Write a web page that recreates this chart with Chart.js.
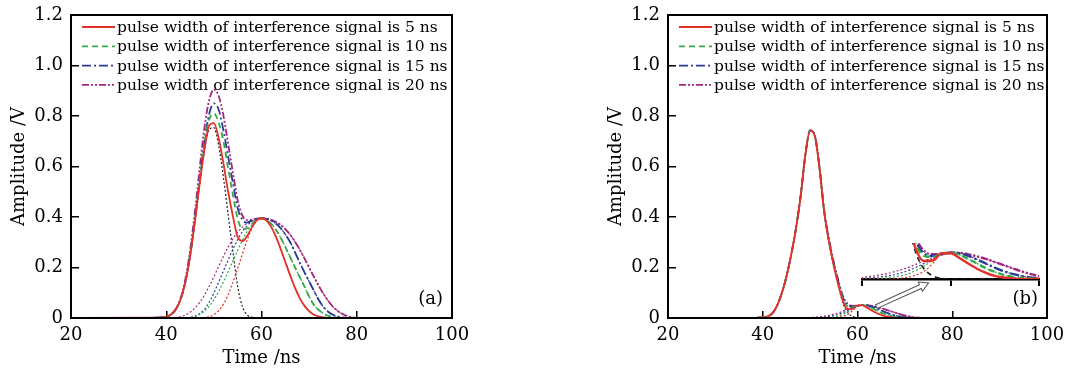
<!DOCTYPE html>
<html>
<head>
<meta charset="utf-8">
<script src="https://cdn.jsdelivr.net/npm/chart.js@4.4.1/dist/chart.umd.min.js"></script>
<style>
  body { margin: 0; background: #fff; }
  #wrap { position: relative; width: 1067px; height: 374px; }
  canvas { position: absolute; top: 0; }
</style>
</head>
<body>
<div id="wrap">
  <canvas id="chartA" width="533" height="374" style="left:0"></canvas>
  <canvas id="chartB" width="534" height="374" style="left:533px"></canvas>
  <canvas id="chartInset" width="200" height="60" style="left:850px;top:235px"></canvas>
</div>
<script>
// sample times (ns); every series below starts at times[0]
var times = [38, 39, 40, 41, 42, 43, 44, 45, 46, 47, 48, 49, 50, 51, 52, 53, 54, 55, 56, 57, 58, 59, 60,
             61, 62, 63, 64, 65, 66, 67, 68, 69, 70, 71, 72, 73, 74, 75, 76, 77, 78, 79, 80, 81, 82, 83, 84];
var timeRange = [20, 100];

var legendLabels = [
    'pulse width of interference signal is 5 ns',
    'pulse width of interference signal is 10 ns',
    'pulse width of interference signal is 15 ns',
    'pulse width of interference signal is 20 ns'
];

// (a) received signal, echo pulse alone and interference pulses alone
var signalA = [0.001, 0.002, 0.005, 0.014, 0.034, 0.073, 0.141, 0.244, 0.379, 0.529, 0.662, 0.745, 0.754, 0.684, 0.558,
               0.408, 0.262, 0.125, 0.045, 0.012, 0.003, 0];
var red5A = [0.001, 0.002, 0.005, 0.014, 0.034, 0.073, 0.141, 0.244, 0.379, 0.529, 0.664, 0.762, 0.772, 0.713, 0.613,
             0.500, 0.403, 0.321, 0.305, 0.325, 0.360, 0.387, 0.395, 0.387, 0.362, 0.323, 0.275, 0.222, 0.170, 0.121,
             0.080, 0.049, 0.027, 0.013, 0.006, 0.002, 0];
var green10A = [0.001, 0.002, 0.005, 0.014, 0.034, 0.073, 0.141, 0.246, 0.385, 0.543, 0.689, 0.785, 0.810, 0.775, 0.701,
                0.592, 0.488, 0.393, 0.353, 0.355, 0.373, 0.389, 0.395, 0.389, 0.374, 0.350, 0.319, 0.282, 0.242, 0.202,
                0.163, 0.125, 0.085, 0.052, 0.032, 0.018, 0.009, 0.004, 0.001, 0];
var blue15A = [0.001, 0.002, 0.005, 0.014, 0.034, 0.073, 0.141, 0.246, 0.386, 0.546, 0.696, 0.807, 0.850, 0.826, 0.744,
               0.638, 0.535, 0.435, 0.388, 0.378, 0.386, 0.393, 0.395, 0.393, 0.386, 0.374, 0.356, 0.331, 0.301, 0.262,
               0.220, 0.182, 0.145, 0.108, 0.072, 0.044, 0.025, 0.013, 0.006, 0.002, 0];
var purple20A = [0.001, 0.002, 0.005, 0.014, 0.036, 0.078, 0.153, 0.267, 0.418, 0.590, 0.752, 0.862, 0.905, 0.880, 0.802,
                 0.689, 0.575, 0.465, 0.405, 0.388, 0.389, 0.394, 0.395, 0.394, 0.389, 0.381, 0.369, 0.352, 0.330, 0.303,
                 0.272, 0.237, 0.200, 0.163, 0.128, 0.096, 0.068, 0.045, 0.028, 0.016, 0.008, 0.003, 0.001, 0];
var jam5A = [0, 0, 0, 0, 0, 0, 0, 0, 0, 0, 0.002, 0.005, 0.013, 0.029, 0.055, 0.092, 0.141, 0.196, 0.254, 0.309,
             0.355, 0.385, 0.395, 0.387, 0.362, 0.323, 0.275, 0.222, 0.170, 0.121, 0.080, 0.049, 0.027, 0.013, 0.006,
             0.002, 0];
var jam10A = [0, 0, 0, 0, 0, 0, 0, 0.002, 0.006, 0.014, 0.027, 0.046, 0.072, 0.105, 0.143, 0.184, 0.226, 0.268, 0.308,
              0.343, 0.370, 0.388, 0.395, 0.389, 0.374, 0.350, 0.319, 0.282, 0.242, 0.202, 0.163, 0.125, 0.085, 0.052,
              0.032, 0.018, 0.009, 0.004, 0.001, 0];
var jam15A = [0, 0, 0, 0, 0, 0, 0, 0.002, 0.007, 0.017, 0.034, 0.062, 0.099, 0.142, 0.186, 0.230, 0.273, 0.310, 0.343,
              0.366, 0.383, 0.392, 0.395, 0.393, 0.386, 0.374, 0.356, 0.331, 0.301, 0.262, 0.220, 0.182, 0.145, 0.108,
              0.072, 0.044, 0.025, 0.013, 0.006, 0.002, 0];
var jam20A = [0, 0, 0, 0, 0.002, 0.005, 0.012, 0.023, 0.039, 0.061, 0.090, 0.125, 0.163, 0.204, 0.244, 0.281, 0.313,
              0.340, 0.360, 0.376, 0.386, 0.393, 0.395, 0.394, 0.389, 0.381, 0.369, 0.352, 0.330, 0.303, 0.272, 0.237,
              0.200, 0.163, 0.128, 0.096, 0.068, 0.045, 0.028, 0.016, 0.008, 0.003, 0.001, 0];

// (b) same curves after processing
var signalB = [0, 0.001, 0.002, 0.006, 0.018, 0.048, 0.097, 0.164, 0.250, 0.353, 0.483, 0.647, 0.742, 0.720, 0.590,
               0.415, 0.300, 0.205, 0.125, 0.055, 0.020, 0.006, 0.001, 0];
var red5B = [0, 0.001, 0.002, 0.006, 0.018, 0.048, 0.097, 0.164, 0.250, 0.353, 0.483, 0.647, 0.742, 0.720, 0.590,
             0.415, 0.300, 0.206, 0.128, 0.062, 0.035, 0.036, 0.050, 0.050, 0.041, 0.030, 0.020, 0.012, 0.006, 0.003,
             0.001, 0];
var green10B = [0, 0.001, 0.002, 0.006, 0.018, 0.048, 0.097, 0.164, 0.250, 0.353, 0.483, 0.647, 0.742, 0.720, 0.590,
                0.416, 0.302, 0.210, 0.134, 0.071, 0.045, 0.043, 0.049, 0.051, 0.047, 0.039, 0.030, 0.021, 0.014, 0.008,
                0.004, 0.002, 0.001, 0];
var blue15B = [0, 0.001, 0.002, 0.006, 0.018, 0.048, 0.097, 0.164, 0.250, 0.353, 0.483, 0.647, 0.742, 0.721, 0.592,
               0.419, 0.306, 0.215, 0.140, 0.077, 0.050, 0.045, 0.048, 0.051, 0.050, 0.045, 0.038, 0.030, 0.022, 0.015,
               0.010, 0.006, 0.003, 0.002, 0.001, 0];
var purple20B = [0, 0.001, 0.002, 0.006, 0.018, 0.048, 0.097, 0.164, 0.250, 0.353, 0.483, 0.648, 0.744, 0.723, 0.595,
                 0.423, 0.311, 0.221, 0.146, 0.083, 0.055, 0.048, 0.049, 0.051, 0.051, 0.048, 0.044, 0.039, 0.033, 0.027,
                 0.021, 0.015, 0.010, 0.006, 0.003, 0.001, 0];
var jam5B = [0, 0, 0, 0, 0, 0, 0, 0, 0, 0, 0, 0, 0, 0, 0, 0, 0, 0.001, 0.003, 0.007, 0.015, 0.030, 0.049, 0.050,
             0.041, 0.030, 0.020, 0.012, 0.006, 0.003, 0.001, 0];
var jam10B = [0, 0, 0, 0, 0, 0, 0, 0, 0, 0, 0, 0, 0, 0, 0, 0.001, 0.002, 0.005, 0.009, 0.016, 0.025, 0.037, 0.048,
              0.051, 0.047, 0.039, 0.030, 0.021, 0.014, 0.008, 0.004, 0.002, 0.001, 0];
var jam15B = [0, 0, 0, 0, 0, 0, 0, 0, 0, 0, 0, 0, 0, 0.001, 0.002, 0.004, 0.006, 0.010, 0.015, 0.022, 0.030, 0.039,
              0.047, 0.051, 0.050, 0.045, 0.038, 0.030, 0.022, 0.015, 0.010, 0.006, 0.003, 0.002, 0.001, 0];
var jam20B = [0, 0, 0, 0, 0, 0, 0, 0, 0, 0, 0, 0.001, 0.002, 0.003, 0.005, 0.008, 0.011, 0.016, 0.021, 0.028, 0.035,
              0.042, 0.048, 0.051, 0.051, 0.048, 0.044, 0.039, 0.033, 0.027, 0.021, 0.015, 0.010, 0.006, 0.003, 0.001, 0];

// zoom window drawn inside (b), and the arrow pointing at it (time, amplitude)
var insetTimes = [51, 71];
var insetTicks = [51, 61, 71];
var insetAmplitude = [0, 0.07];
var arrowTail = [64, 0.045];
var arrowHead = [75, 0.139];

var RED = '#e5312b', GREEN = '#35a94a', BLUE = '#2c3b98', PURPLE = '#a2287f', BLACK = '#222';
var styles = [
    { color: RED, dash: [] },
    { color: GREEN, dash: [6, 4] },
    { color: BLUE, dash: [9, 3, 2, 3] },
    { color: PURPLE, dash: [7, 2, 2, 2, 2, 2] }
];

Chart.defaults.font.family = '"DejaVu Serif", serif';
Chart.defaults.color = '#000';

function toPoints(values) {
    var pts = [{ x: timeRange[0], y: 0 }];
    values.forEach(function(v, i) { pts.push({ x: times[i], y: v }); });
    pts.push({ x: timeRange[1], y: 0 });
    return pts;
}

function buildDatasets(mains, parts, signal, mainWidth) {
    var sets = [];
    mains.forEach(function(values, i) {
        sets.push({
            label: legendLabels[i], inLegend: true, order: 0,
            data: toPoints(values), borderColor: styles[i].color, borderDash: styles[i].dash,
            borderWidth: mainWidth, pointRadius: 0, fill: false, cubicInterpolationMode: 'monotone'
        });
    });
    parts.forEach(function(values, i) {
        sets.push({
            label: 'jam' + i, order: 1,
            data: toPoints(values), borderColor: styles[i].color, borderDash: [2, 2],
            borderWidth: 1.2, pointRadius: 0, fill: false, cubicInterpolationMode: 'monotone'
        });
    });
    sets.push({
        label: 'echo', order: 1,
        data: toPoints(signal), borderColor: BLACK, borderDash: [2, 2],
        borderWidth: 1.2, pointRadius: 0, fill: false, cubicInterpolationMode: 'monotone'
    });
    return sets;
}

var framePlugin = {
    id: 'frame',
    afterDraw: function(chart) {
        var a = chart.chartArea, ctx = chart.ctx;
        ctx.save();
        ctx.strokeStyle = '#000';
        ctx.lineWidth = 2;
        ctx.strokeRect(a.left, a.top, a.right - a.left, a.bottom - a.top);
        ctx.restore();
    }
};

var legendPlugin = {
    id: 'insideLegend',
    afterDatasetsDraw: function(chart) {
        var a = chart.chartArea, ctx = chart.ctx, row = 0;
        chart.data.datasets.forEach(function(ds) {
            if (!ds.inLegend) return;
            var y = a.top + 12 + row * 19.3;
            ctx.save();
            ctx.strokeStyle = ds.borderColor;
            ctx.lineWidth = ds.borderWidth;
            ctx.setLineDash(ds.borderDash);
            ctx.beginPath();
            ctx.moveTo(a.left + 11, y);
            ctx.lineTo(a.left + 44, y);
            ctx.stroke();
            ctx.fillStyle = '#000';
            ctx.font = '15.5px "DejaVu Serif"';
            ctx.textBaseline = 'middle';
            ctx.fillText(ds.label, a.left + 46, y + 1);
            ctx.restore();
            row++;
        });
    }
};

var tagPlugin = {
    id: 'panelTag',
    afterDraw: function(chart, args, opts) {
        var a = chart.chartArea, ctx = chart.ctx;
        ctx.save();
        ctx.fillStyle = '#000';
        ctx.font = '18px "DejaVu Serif"';
        ctx.textAlign = 'right';
        ctx.textBaseline = 'middle';
        ctx.fillText(opts.text, a.right - 9, a.bottom - 19);
        ctx.restore();
    }
};

// hollow arrow from the small bump in (b) up to the zoom window
var arrowPlugin = {
    id: 'zoomArrow',
    afterDatasetsDraw: function(chart) {
        var xs = chart.scales.x, ys = chart.scales.y, ctx = chart.ctx;
        var x1 = xs.getPixelForValue(arrowTail[0]), y1 = ys.getPixelForValue(arrowTail[1]);
        var x2 = xs.getPixelForValue(arrowHead[0]), y2 = ys.getPixelForValue(arrowHead[1]);
        var ang = Math.atan2(y2 - y1, x2 - x1), len = Math.hypot(x2 - x1, y2 - y1);
        var head = 9, shaft = 2, wing = 5;
        ctx.save();
        ctx.translate(x1, y1);
        ctx.rotate(ang);
        ctx.beginPath();
        ctx.moveTo(0, -shaft);
        ctx.lineTo(len - head, -shaft);
        ctx.lineTo(len - head, -wing);
        ctx.lineTo(len, 0);
        ctx.lineTo(len - head, wing);
        ctx.lineTo(len - head, shaft);
        ctx.lineTo(0, shaft);
        ctx.closePath();
        ctx.fillStyle = '#fff';
        ctx.fill();
        ctx.strokeStyle = '#555';
        ctx.lineWidth = 1;
        ctx.stroke();
        ctx.restore();
    }
};

function panelOptions(padLeft, padRight, tag) {
    return {
        responsive: false,
        animation: false,
        events: [],
        layout: { padding: { left: padLeft, right: padRight, top: 15, bottom: 0 } },
        plugins: { legend: { display: false }, tooltip: { enabled: false }, panelTag: { text: tag } },
        scales: {
            x: {
                type: 'linear', min: timeRange[0], max: timeRange[1],
                ticks: { stepSize: 20, padding: 14, font: { size: 18 } },
                grid: { drawOnChartArea: false, tickLength: -7, color: '#000', lineWidth: 1.5 },
                border: { color: '#000', width: 2 },
                title: { display: true, text: 'Time /ns', font: { size: 18 }, padding: { top: 0, bottom: 5 } },
                afterFit: function(s) { s.height = 56; s.paddingLeft = 0; s.paddingRight = 0; }
            },
            y: {
                min: 0, max: 1.2,
                ticks: {
                    stepSize: 0.2, padding: 16, font: { size: 18 },
                    callback: function(v) { return v === 0 ? '0' : v.toFixed(1); }
                },
                grid: { drawOnChartArea: false, tickLength: -8, color: '#000', lineWidth: 1.5 },
                border: { color: '#000', width: 2 },
                title: { display: true, text: 'Amplitude /V', font: { size: 18 }, padding: { top: 9, bottom: 0 } },
                afterFit: function(s) { s.width = 71; s.paddingTop = 0; s.paddingBottom = 0; }
            }
        }
    };
}

new Chart(document.getElementById('chartA'), {
    type: 'line',
    data: { datasets: buildDatasets([red5A, green10A, blue15A, purple20A], [jam5A, jam10A, jam15A, jam20A], signalA, 1.8) },
    options: panelOptions(0, 81, '(a)'),
    plugins: [framePlugin, legendPlugin, tagPlugin]
});

new Chart(document.getElementById('chartB'), {
    type: 'line',
    data: { datasets: buildDatasets([red5B, green10B, blue15B, purple20B], [jam5B, jam10B, jam15B, jam20B], signalB, 1.8) },
    options: panelOptions(64, 20, '(b)'),
    plugins: [framePlugin, legendPlugin, tagPlugin, arrowPlugin]
});

// magnified view of the small bump in (b)
var insetSets = buildDatasets([red5B, green10B, blue15B, purple20B], [jam5B, jam10B, jam15B, jam20B], signalB, 2.4);
insetSets[insetSets.length - 1].borderDash = [5, 4];
insetSets[insetSets.length - 1].borderWidth = 1.6;
new Chart(document.getElementById('chartInset'), {
    type: 'line',
    data: { datasets: insetSets },
    options: {
        responsive: false,
        animation: false,
        events: [],
        layout: { padding: { left: 12, right: 11, top: 8, bottom: 0 } },
        plugins: { legend: { display: false }, tooltip: { enabled: false } },
        scales: {
            x: {
                type: 'linear', min: insetTimes[0], max: insetTimes[1],
                ticks: { display: false },
                afterBuildTicks: function(s) { s.ticks = insetTicks.map(function(v) { return { value: v }; }); },
                grid: { drawOnChartArea: false, tickLength: 7, color: '#000', lineWidth: 2 },
                border: { color: '#000', width: 2.5 },
                afterFit: function(s) { s.height = 16; s.paddingLeft = 0; s.paddingRight = 0; }
            },
            y: { display: false, min: insetAmplitude[0], max: insetAmplitude[1] }
        }
    }
});
</script>
</body>
</html>
